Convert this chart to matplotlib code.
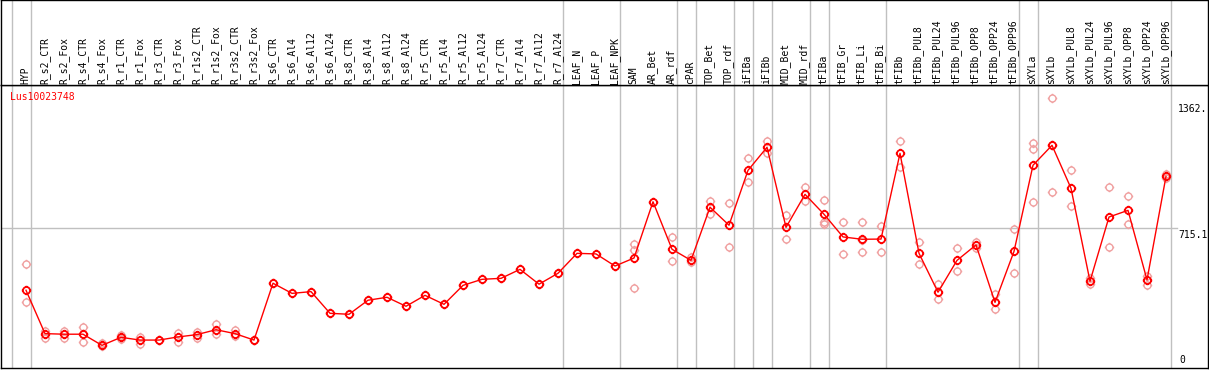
import numpy as np
import matplotlib
matplotlib.use("Agg")
import matplotlib.pyplot as plt
from matplotlib.path import Path

samples = ["HYP", "R_s2_CTR", "R_s2_Fox", "R_s4_CTR", "R_s4_Fox", "R_r1_CTR", "R_r1_Fox",
           "R_r3_CTR", "R_r3_Fox", "R_r1s2_CTR", "R_r1s2_Fox", "R_r3s2_CTR", "R_r3s2_Fox",
           "R_s6_CTR", "R_s6_Al4", "R_s6_Al12", "R_s6_Al24", "R_s8_CTR", "R_s8_Al4", "R_s8_Al12",
           "R_s8_Al24", "R_r5_CTR", "R_r5_Al4", "R_r5_Al12", "R_r5_Al24", "R_r7_CTR", "R_r7_Al4",
           "R_r7_Al12", "R_r7_Al24", "LEAF_N", "LEAF_P", "LEAF_NPK", "SAM", "AR_Bet", "AR_rdf",
           "cPAR", "TOP_Bet", "TOP_rdf", "iFIBa", "iFIBb", "MID_Bet", "MID_rdf", "tFIBa",
           "tFIB_Gr", "tFIB_Li", "tFIB_Bi", "tFIBb", "tFIBb_PUL8", "tFIBb_PUL24", "tFIBb_PUL96",
           "tFIBb_OPP8", "tFIBb_OPP24", "tFIBb_OPP96", "sXYLa", "sXYLb", "sXYLb_PUL8",
           "sXYLb_PUL24", "sXYLb_PUL96", "sXYLb_OPP8", "sXYLb_OPP24", "sXYLb_OPP96"]

means = [398, 176, 173, 173, 116, 157, 143, 143, 159, 171, 196, 176, 143,
         434, 382, 391, 280, 275, 347, 362, 316, 372, 326, 423, 454, 459, 505, 429, 485,
         587, 584, 522, 563, 851, 608, 551, 823, 731, 1012, 1130, 720, 889, 787,
         671, 659, 660, 1099, 587, 388, 551, 630, 336, 597, 1038, 1140, 920,
         444, 773, 807, 451, 981]

replicates = [[532, 338], [191, 155], [189, 155], [208, 132, 174], [128, 113], [169, 149],
              [160, 124], [143, 143], [178, 132], [186, 154], [225, 176], [195, 164], [143, 143],
              [434], [382], [391], [280], [275], [347], [362], [316], [372], [326], [423], [454],
              [459], [505], [429], [485], [587], [584], [522], [635, 604, 408], [851], [669, 546],
              [541, 568], [855, 790], [843, 618], [1074, 951], [1161, 1099], [782, 659], [925, 853],
              [860, 749, 739], [746, 582], [746, 592, 655], [725, 592], [1162, 1027], [644, 531],
              [430, 352], [613, 497], [647, 613], [377, 301], [710, 485], [1150, 1121, 848],
              [1381, 900, 1140], [1012, 828], [459, 429], [925, 618], [879, 736], [469, 423],
              [992, 973]]

group_ends = [-1, 0, 28, 31, 34, 35, 37, 38, 39, 41, 42, 45, 52, 53, 60]

gene = "Lus10023748"
y_marks = [1362, 715.1]
y_labels = ["1362.", "715.1"]

W, H = 1209, 370
fig = plt.figure(figsize=(W / 100, H / 100), dpi=100)
ax = fig.add_axes([1 / W, 2 / H, 1207 / W, 283 / H])
hax = fig.add_axes([1 / W, 285 / H, 1207 / W, 85 / H], sharex=ax)

x = np.arange(len(samples))
ax.set_xlim(-1.316, 62.21)
ax.set_ylim(0, 283 / 0.19534)

# circle with four little ticks
circ = Path.unit_circle()
verts = list(circ.vertices) + [(0, 1), (0, 1.35), (0, -1), (0, -1.35),
                               (1, 0), (1.35, 0), (-1, 0), (-1.35, 0)]
codes = list(circ.codes) + [Path.MOVETO, Path.LINETO] * 4
mk = Path(verts, codes)

for b in group_ends:
    ax.axvline(b + 0.24, color="#c0c0c0", lw=1, zorder=0)
    hax.axvline(b + 0.24, color="#c0c0c0", lw=1, zorder=0)
ax.axhline(y_marks[1], xmin=0, xmax=1176 / 1207, color="#c0c0c0", lw=1, zorder=0)

for i, reps in enumerate(replicates):
    ax.plot([i] * len(reps), reps, ls="none", marker=mk, ms=6.8, mfc="none",
            mec="#f0a0a0", mew=1.0, zorder=2)

ax.plot(x, means, color="#ff0000", lw=1.0, marker=mk, ms=6.8, mfc="none",
        mec="#ff0000", mew=1.3, zorder=3)

tr = ax.get_yaxis_transform()
for v, lab in zip(y_marks, y_labels):
    ax.annotate(lab, xy=(1177 / 1207, v), xycoords=tr, xytext=(0, -2),
                textcoords="offset pixels", va="top", ha="left",
                family="DejaVu Sans Mono", fontsize=7, clip_on=True)
ax.text(1178 / 1207, 0.012, "0", transform=ax.transAxes, va="bottom", ha="left",
        family="DejaVu Sans Mono", fontsize=7)
ax.text(9 / 1207, 0.9565, gene, transform=ax.transAxes, va="center", ha="left",
        color="#ff0000", family="DejaVu Sans Mono", fontsize=7)

htr = hax.get_xaxis_transform()
for i, s in enumerate(samples):
    hax.text(i - 0.03, 1 / 85, s, transform=htr, rotation=90, ha="center", va="bottom",
             family="DejaVu Sans Mono", fontsize=7)

for a in (ax, hax):
    a.set_xticks([])
    a.set_yticks([])
    for sp in a.spines.values():
        sp.set_linewidth(1)
        sp.set_color("black")
hax.set_ylim(0, 1)

fig.savefig("out.png", dpi=100)
